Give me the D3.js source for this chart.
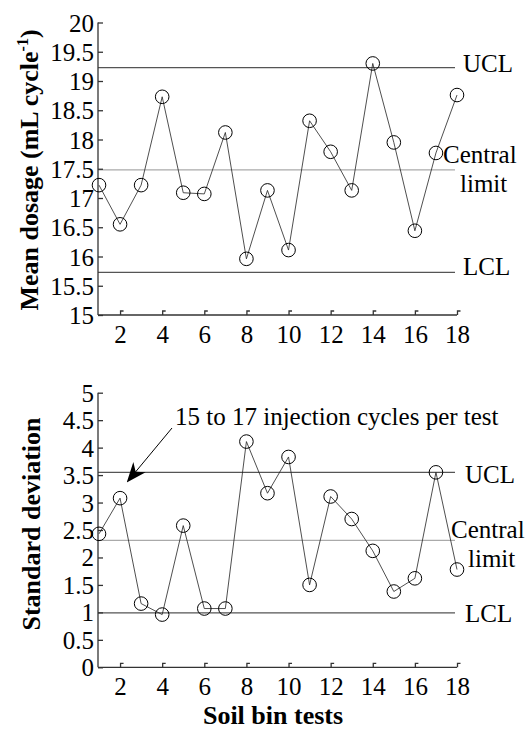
<!DOCTYPE html>
<html>
<head>
<meta charset="utf-8">
<script src="https://cdn.jsdelivr.net/npm/d3@7"></script>
<style>
  body { margin: 0; background: #fff; }
  svg text { font-family: "Liberation Serif", "Times New Roman", serif; fill: #000; }
</style>
</head>
<body>
<div id="chartContainer"></div>
<script>
// soil bin tests 1..18
var tests = [1, 2, 3, 4, 5, 6, 7, 8, 9, 10, 11, 12, 13, 14, 15, 16, 17, 18]
var meanDosage = [17.22, 16.55, 17.22, 18.73, 17.09, 17.07, 18.12, 15.96, 17.13, 16.11, 18.32, 17.79, 17.13, 19.30, 17.95, 16.44, 17.77, 18.76]
var stdDev = [2.43, 3.08, 1.16, 0.96, 2.58, 1.07, 1.07, 4.11, 3.17, 3.83, 1.50, 3.11, 2.70, 2.12, 1.38, 1.62, 3.55, 1.78]
var meanLimits = { ucl: 19.23, central: 17.48, lcl: 15.73 }
var sdLimits = { ucl: 3.55, central: 2.31, lcl: 0.99 }
var xTicks = [2, 4, 6, 8, 10, 12, 14, 16, 18]
var meanTicks = [15, 15.5, 16, 16.5, 17, 17.5, 18, 18.5, 19, 19.5, 20]
var sdTicks = [0, 0.5, 1, 1.5, 2, 2.5, 3, 3.5, 4, 4.5, 5]

var svg = d3.select('#chartContainer').append('svg')
    .attr('width', 527)
    .attr('height', 729)

var xScale = d3.scaleLinear().domain([1, 18]).range([99, 457])

svg.append('defs').append('marker')
    .attr('id', 'arrow')
    .attr('viewBox', '0 0 10 10')
    .attr('refX', 9).attr('refY', 5)
    .attr('markerWidth', 20).attr('markerHeight', 20)
    .attr('markerUnits', 'userSpaceOnUse')
    .attr('orient', 'auto')
    .append('path')
    .attr('d', 'M0,1 L10,5 L0,9 L3,5 Z')
    .attr('fill', '#000')

function drawPanel(cfg) {
    var yScale = d3.scaleLinear().domain(cfg.domain).range([cfg.bottom, cfg.top])
    var g = svg.append('g')
    var x0 = xScale.range()[0] - 1, x1 = xScale.range()[1]

    // control limit lines
    var limits = [
        { key: 'ucl', color: '#555' },
        { key: 'central', color: '#aaa' },
        { key: 'lcl', color: '#555' }
    ]
    g.selectAll('.limit').data(limits).enter().append('line')
        .attr('class', 'limit')
        .attr('x1', x0).attr('x2', x1 - 2)
        .attr('y1', function(d) { return yScale(cfg.limits[d.key]) })
        .attr('y2', function(d) { return yScale(cfg.limits[d.key]) })
        .attr('stroke', function(d) { return d.color })
        .attr('stroke-width', 1.2)

    // y axis
    var yAxis = d3.axisRight(yScale).tickValues(cfg.ticks).tickSize(5).tickFormat(d3.format('~g'))
    var ya = g.append('g').attr('transform', 'translate(' + x0 + ',0)').call(yAxis)
    ya.select('.domain').attr('d', 'M0,' + cfg.top + 'V' + cfg.bottom).attr('stroke', '#333').attr('stroke-width', 1.3)
    ya.selectAll('.tick line').attr('stroke', '#333').attr('stroke-width', 1.3)
    ya.selectAll('.tick text')
        .attr('x', -4).attr('dy', '0.34em')
        .attr('text-anchor', 'end')
        .style('font-size', '25px')

    // x axis
    var xAxis = d3.axisTop(xScale).tickValues(xTicks).tickSize(0).tickFormat(d3.format('d'))
    var xa = g.append('g').attr('transform', 'translate(0,' + cfg.bottom + ')').call(xAxis)
    xa.select('.domain').attr('d', 'M' + x0 + ',0H' + x1).attr('stroke', '#333').attr('stroke-width', 1.3)
    xa.selectAll('.tick').append('path')
        .attr('d', 'M0,0V-4H3')
        .attr('fill', 'none')
        .attr('stroke', '#333').attr('stroke-width', 1.3)
    xa.selectAll('.tick text')
        .attr('y', 28).attr('dy', 0)
        .attr('text-anchor', 'middle')
        .style('font-size', '25px')

    // data line and markers
    var pts = tests.map(function(t, i) { return { x: t, y: cfg.values[i] } })
    var line = d3.line().x(function(d) { return xScale(d.x) }).y(function(d) { return yScale(d.y) })
    g.append('path').datum(pts)
        .attr('d', line)
        .attr('fill', 'none')
        .attr('stroke', '#222')
        .attr('stroke-width', 0.8)
    g.selectAll('.pt').data(pts).enter().append('circle')
        .attr('class', 'pt')
        .attr('cx', function(d) { return xScale(d.x) })
        .attr('cy', function(d) { return yScale(d.y) })
        .attr('r', 6.8)
        .attr('fill', 'none')
        .attr('stroke', '#000')
        .attr('stroke-width', 1)

    // limit labels
    var lx = cfg.labelX
    g.append('text').attr('x', lx.ucl).attr('y', yScale(cfg.limits.ucl) + cfg.uclDy).style('font-size', '25px').text('UCL')
    g.append('text').attr('x', lx.lcl).attr('y', yScale(cfg.limits.lcl) + cfg.lclDy).style('font-size', '25px').text('LCL')
    g.append('text').attr('x', lx.central).attr('y', yScale(cfg.limits.central) + cfg.centralDy).style('font-size', '25px').text('Central')
    g.append('text').attr('x', lx.limit).attr('y', yScale(cfg.limits.central) + cfg.centralDy + 29).style('font-size', '25px').text('limit')

    // y title
    var yt = g.append('text')
        .attr('transform', 'translate(' + cfg.titleX + ',' + cfg.titleY + ') rotate(-90)')
        .attr('text-anchor', 'middle')
        .style('font-size', '26px')
        .style('font-weight', 'bold')
    cfg.title(yt)
    return yScale
}

drawPanel({
    domain: [15, 20], top: 22.5, bottom: 315,
    values: meanDosage, limits: meanLimits, ticks: meanTicks,
    labelX: { ucl: 463, lcl: 463, central: 443, limit: 460 },
    uclDy: 4, lclDy: 3, centralDy: -7,
    titleX: 38, titleY: 170,
    title: function(t) {
        t.append('tspan').text('Mean dosage (mL cycle')
        t.append('tspan').attr('dy', -10).style('font-size', '16px').text('-1')
        t.append('tspan').attr('dy', 10).text(')')
    }
})

drawPanel({
    domain: [0, 5], top: 392.7, bottom: 667.3,
    values: stdDev, limits: sdLimits, ticks: sdTicks,
    labelX: { ucl: 465, lcl: 465, central: 451, limit: 468 },
    uclDy: 11, lclDy: 9, centralDy: -2,
    titleX: 40, titleY: 524,
    title: function(t) { t.text('Standard deviation') }
})

// annotation
svg.append('text').attr('x', 175).attr('y', 425).style('font-size', '25px')
    .text('15 to 17 injection cycles per test')
svg.append('line')
    .attr('x1', 172).attr('y1', 428)
    .attr('x2', 128).attr('y2', 481)
    .attr('stroke', '#000').attr('stroke-width', 1)
    .attr('marker-end', 'url(#arrow)')

// x title
svg.append('text').attr('x', 273).attr('y', 724)
    .attr('text-anchor', 'middle')
    .style('font-size', '26px').style('font-weight', 'bold')
    .text('Soil bin tests')
</script>
</body>
</html>
